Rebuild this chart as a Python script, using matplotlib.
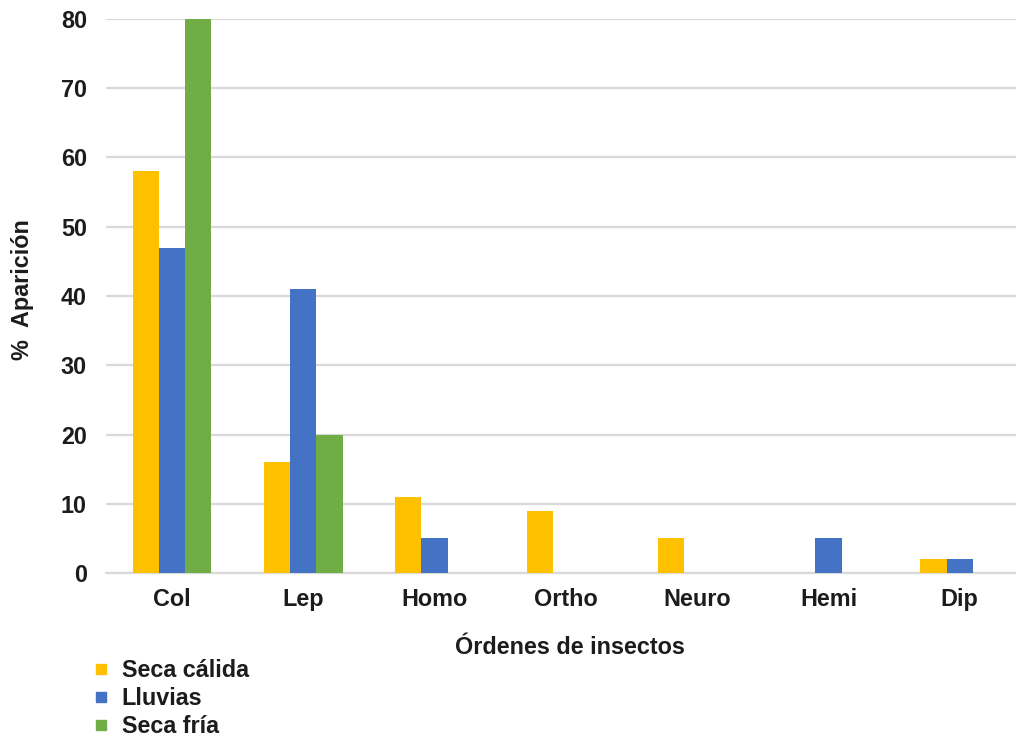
import matplotlib.pyplot as plt
from matplotlib.lines import Line2D
import numpy as np

plt.rcParams['font.family'] = ['Liberation Sans', 'DejaVu Sans']

ordenes = ['Col', 'Lep', 'Homo', 'Ortho', 'Neuro', 'Hemi', 'Dip']
seca_calida = [58, 16, 11, 9, 5, 0, 2]
lluvias = [47, 41, 5, 0, 0, 5, 2]
seca_fria = [80, 20, 0, 0, 0, 0, 0]

series = [('Seca cálida', seca_calida, '#FFC000'),
          ('Lluvias', lluvias, '#4472C4'),
          ('Seca fría', seca_fria, '#70AD47')]

W, H = 1016, 738
fs = 16.8
txt = '#1c1c1c'
fig = plt.figure(figsize=(W / 100, H / 100), dpi=100)
fig.set_facecolor('white')
# plot area runs a little past the right edge of the figure
ax = fig.add_axes([106.4 / W, (H - 573) / H, 919 / W, 554 / H])

x = np.arange(len(ordenes))
bw = 0.2
for i, (name, vals, col) in enumerate(series):
    ax.bar(x + (i - 1) * bw, vals, width=bw, color=col, zorder=3)

ax.set_xlim(-0.5, len(ordenes) - 0.5)
ax.set_ylim(0, 80)
ax.set_yticks(range(0, 81, 10))
ax.set_xticks(x)
ax.set_xticklabels(ordenes)
ax.grid(axis='y', color='#d9d9d9', linewidth=1.6, zorder=0)
for s in ['top', 'right', 'left']:
    ax.spines[s].set_visible(False)
ax.spines['bottom'].set_color('#d9d9d9')
ax.spines['bottom'].set_linewidth(1.6)
ax.tick_params(axis='both', length=0, labelsize=fs, labelcolor=txt)
ax.tick_params(axis='y', pad=14)
ax.tick_params(axis='x', pad=11)
for lab in ax.get_xticklabels() + ax.get_yticklabels():
    lab.set_fontweight('bold')

fig.text(570 / W, 1 - 648 / H, 'Órdenes de insectos', ha='center', va='center',
         fontsize=fs, fontweight='bold', color=txt)
fig.text(23 / W, 1 - 290 / H, '%  Aparición', ha='center', va='center',
         rotation=90, fontsize=fs, fontweight='bold', color=txt)

handles = [Line2D([], [], marker='s', linestyle='none', markersize=7,
                  color=col, label=name) for name, vals, col in series]
leg = fig.legend(handles=handles, loc='upper left',
                 bbox_to_anchor=(82 / W, 1 - 647 / H),
                 prop={'size': fs, 'weight': 'bold'}, labelcolor=txt,
                 frameon=False, handlelength=0.6, handletextpad=0.6,
                 labelspacing=0.22, borderpad=0)

fig.savefig('out.png', dpi=100)
